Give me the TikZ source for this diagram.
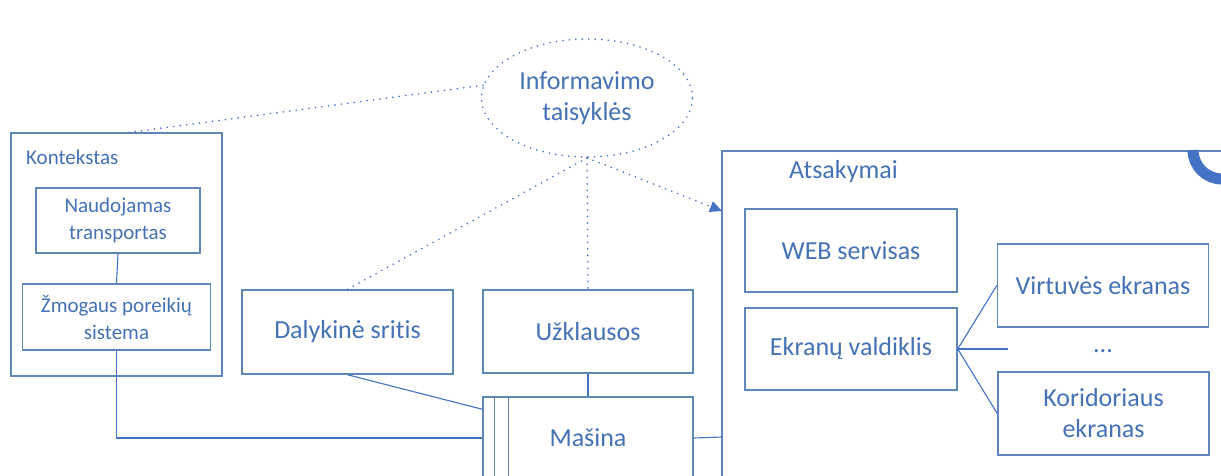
\documentclass[tikz,border=0pt]{standalone}
\usepackage{fontspec}
\setmainfont[Ligatures=NoCommon]{Carlito}
\usetikzlibrary{shapes.geometric,arrows.meta,calc}
\definecolor{txtc}{HTML}{4472B4}
\definecolor{boxc}{HTML}{5F86B8}
\definecolor{linec}{HTML}{4472C4}
\tikzset{
  box/.style={draw=boxc, line width=1.5pt, text=txtc, align=center, inner sep=0pt},
  bigtxt/.style={font=\fontsize{26}{31}\selectfont},
  smalltxt/.style={font=\fontsize{21}{27}\selectfont},
  conn/.style={draw=linec, line width=1.1pt},
  dotl/.style={draw=linec, line width=1.8pt, dash pattern=on 0pt off 6.5pt, line cap=round},
}
\begin{document}
\begin{tikzpicture}[x=1pt,y=-1pt]
\clip (0,0) rectangle (1221,476);
\fill[white] (0,0) rectangle (1221,476);

% Left context box
\node[box, minimum width=211, minimum height=243] (kont) at (116.5,254.5) {};
\node[text=txtc, smalltxt, anchor=west, inner sep=0pt] (konttxt) at (26,157.5) {Kontekstas};
\node[box, smalltxt, minimum width=164, minimum height=65] (naud) at (118,220.5) {Naudojamas\\transportas};
\node[box, smalltxt, minimum width=188, minimum height=66] (zmog) at (116.5,317) {Žmogaus poreikių\\sistema};

% Ellipse
\node[ellipse, dotl, bigtxt, text=txtc, align=center, minimum width=211, minimum height=118, inner sep=0pt] (info) at (587,98) {Informavimo\\taisyklės};

% Middle boxes
\node[box, bigtxt, minimum width=211, minimum height=84] (daly) at (347.5,332) {Dalykinė sritis};
\node[box, bigtxt, minimum width=210, minimum height=83] (uzkl) at (588,331.5) {Užklausos};
\node[box, bigtxt, minimum width=210, minimum height=82] (masi) at (588,438) {Mašina};
\draw[boxc, line width=1.5pt] ($(masi.north west)+(12,0)$) -- ($(masi.south west)+(12,0)$);
\draw[boxc, line width=1.5pt] ($(masi.north west)+(26,0)$) -- ($(masi.south west)+(26,0)$);

% Right container
\node[box, minimum width=518, minimum height=349] (atsa) at (981,325.5) {};
\node[text=txtc, bigtxt, anchor=west, inner sep=0pt] (atsatxt) at (789,172) {Atsakymai};
\node[box, bigtxt, minimum width=212, minimum height=83] (web) at (851,250.5) {WEB servisas};
\node[box, bigtxt, minimum width=212, minimum height=82] (ekra) at (851,349) {Ekranų valdiklis};
\node[box, bigtxt, minimum width=211, minimum height=83] (virt) at (1103,285.5) {Virtuvės ekranas};
\node[box, bigtxt, minimum width=211, minimum height=83] (kori) at (1103.5,413.5) {Koridoriaus\\ekranas};
\node[text=txtc, bigtxt, inner sep=0pt] (dots) at (1103,351) {...};

% Corner arc
\draw[linec, line width=11pt] (1193,150) arc[start angle=180, end angle=90, radius=29];

% Coordinates
\coordinate (mleft1) at ($(masi.north west)+(0,13)$);
\coordinate (mleft2) at (masi.west);
\coordinate (aleft1) at (722,437);
\coordinate (aleft2) at (722,211);
\coordinate (kontop) at (125,133);
\coordinate (ekramid) at (1008,349);

% Solid connectors
\draw[conn] (naud.south) -- (zmog.north);
\draw[conn] (zmog.south) |- (mleft2);
\draw[conn] (daly.south) -- (mleft1);
\draw[conn] (uzkl.south) -- (masi.north);
\draw[conn] (masi.east) -- (aleft1);
\draw[conn] (ekra.east) -- (virt.west);
\draw[conn] (ekra.east) -- (kori.west);
\draw[conn] (ekra.east) -- (ekramid);

% Dotted connectors
\draw[dotl] (info.173) -- (kontop);
\draw[dotl] (info.south) -- (daly.north);
\draw[dotl] (info.south) -- (uzkl.north);
\draw[dotl, -{Triangle[length=12pt,width=11pt,fill=linec]}] (info.south) -- (aleft2);
\end{tikzpicture}
\end{document}
